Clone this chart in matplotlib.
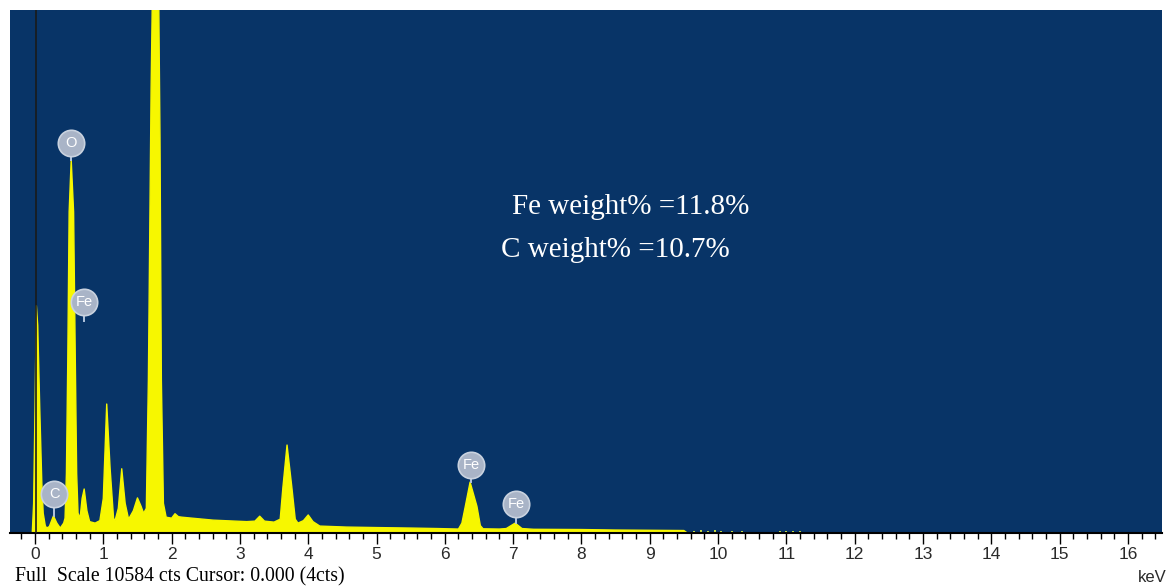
import matplotlib
matplotlib.use("Agg")
from matplotlib import pyplot as plt

## EDS spectrum (keV, counts)
energy = [-0.10, -0.04, -0.02, 0.00, 0.02, 0.04, 0.07, 0.10, 0.12, 0.15, 0.17, 0.21,
          0.27, 0.32, 0.37, 0.42, 0.44, 0.46, 0.48, 0.50, 0.53, 0.565, 0.59, 0.61,
          0.63, 0.66, 0.69, 0.72, 0.76, 0.80, 0.88, 0.95, 1.00, 1.05, 1.10, 1.15,
          1.17, 1.22, 1.27, 1.32, 1.37, 1.44, 1.50, 1.55, 1.59, 1.63, 1.66, 1.70,
          1.72, 1.765, 1.81, 1.83, 1.85, 1.88, 1.92, 2.00, 2.05, 2.10, 2.15, 2.30,
          2.61, 3.10, 3.22, 3.29, 3.36, 3.50, 3.59, 3.63, 3.69, 3.76, 3.81, 3.85,
          3.93, 4.00, 4.07, 4.17, 4.56, 5.00, 5.50, 5.90, 6.20, 6.25, 6.30, 6.37,
          6.47, 6.52, 6.56, 6.80, 6.90, 7.03, 7.13, 7.30, 8.00, 8.50, 9.00, 9.50,
          9.55]
counts = [0, 0, 600, 2500, 4600, 4200, 2500, 1000, 400, 150, 100, 130,
          345, 200, 100, 200, 300, 1200, 3500, 6500, 7550, 6500, 3500, 1200,
          400, 300, 700, 890, 450, 230, 200, 250, 700, 2610, 1300, 300,
          240, 500, 1300, 600, 280, 450, 710, 550, 400, 500, 3100, 9000,
          11000, 16000, 11000, 8000, 3100, 600, 320, 300, 390, 330, 320, 300,
          260, 230, 240, 340, 240, 220, 280, 930, 1780, 930, 280, 200,
          250, 365, 230, 140, 120, 110, 100, 90, 80, 200, 540, 1030,
          540, 150, 85, 80, 90, 200, 90, 75, 70, 60, 55, 50,
          0]

# sparse channels after the end of the trace
dots_kev = [9.65, 9.75, 9.85, 9.95, 10.05, 10.2, 10.35, 10.9, 11.0, 11.1, 11.2]
dots_cts = [30, 35, 30, 40, 30, 25, 30, 25, 30, 25, 30]

# element markers
peak_names = ['C', 'O', 'Fe', 'Fe', 'Fe']
peak_kev = [0.28, 0.53, 0.72, 6.39, 7.04]
label_cts = [790, 7900, 4680, 1380, 580]
stem_cts = [345, 7550, 4300, 1030, 200]

full_scale = 10584

fig = plt.figure(figsize=(11.7, 5.87), dpi=100)
ax = fig.add_axes([10/1170, 54/587, 1152/1170, 523/587])
ax.set_facecolor('#083467')

yellow = '#f7f700'
ax.fill_between(energy, counts, 0, color=yellow, linewidth=0, zorder=2)
ax.plot(energy, counts, color=yellow, linewidth=1.0, zorder=2)
ax.scatter(dots_kev, dots_cts, s=4, color='#c5dc45', marker='s', linewidths=0, zorder=2)

# cursor line
ax.axvline(0.01, color='#1a1a1a', linewidth=1.2, zorder=3)

# labels in circles
for name, xk, yl, ys in zip(peak_names, peak_kev, label_cts, stem_cts):
    ax.plot([xk, xk], [ys, yl], color='#b3c6df', linewidth=1.4, zorder=4)
    ax.plot(xk, yl, 'o', markersize=19, markerfacecolor='#a9b4c7',
            markeredgecolor='#c9d2df', markeredgewidth=1.2, zorder=5)
    ax.text(xk, yl, name, color='white', fontsize=10.5, ha='center', va='center',
            family='Liberation Sans', zorder=6)

ax.text(0.436, 0.624, 'Fe weight% =11.8%', transform=ax.transAxes, color='white',
        fontsize=21, family='Liberation Serif', va='center', ha='left')
ax.text(0.426, 0.542, 'C weight% =10.7%', transform=ax.transAxes, color='white',
        fontsize=21, family='Liberation Serif', va='center', ha='left')

ax.set_xlim(-0.366, 16.5)
ax.set_ylim(0, full_scale)
ax.set_xticks(range(0, 17))
ax.set_xticks([i * 0.2 for i in range(-1, 83)], minor=True)
ax.set_yticks([])
ax.tick_params(axis='x', which='major', length=8, width=1, color='black',
               labelsize=12.5, labelcolor='#2a2a2a', pad=2)
ax.tick_params(axis='x', which='minor', length=4, width=1, color='black')
for lbl in ax.get_xticklabels():
    lbl.set_family('Liberation Sans')

for s in ['top', 'left', 'right']:
    ax.spines[s].set_visible(False)
ax.spines['bottom'].set_color('black')
ax.spines['bottom'].set_linewidth(1.5)

fig.text(15/1170, 1 - 577/587, 'Full  Scale 10584 cts Cursor: 0.000 (4cts)',
         family='Liberation Serif', fontsize=14.2, va='center', ha='left', color='black')
fig.text(1167/1170, 1 - 578/587, 'keV', family='Liberation Sans', fontsize=12,
         va='center', ha='right', color='#2a2a2a')

fig.savefig('out.png', dpi=100)
